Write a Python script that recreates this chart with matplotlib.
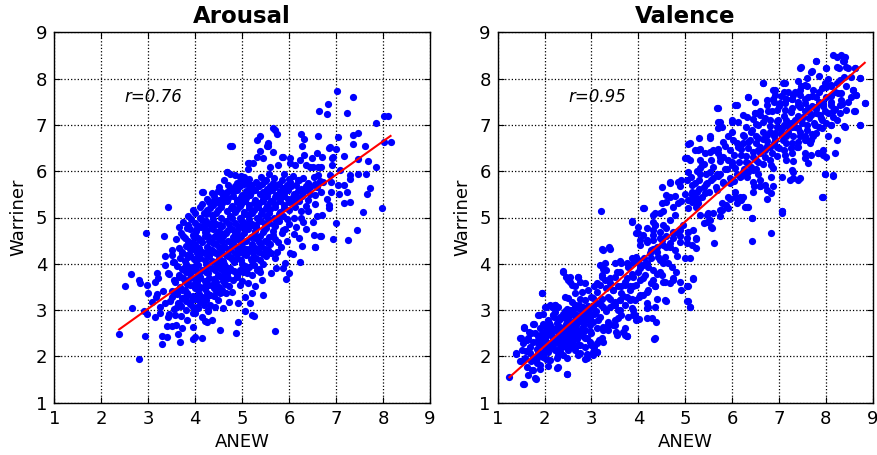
import numpy as np
import matplotlib
matplotlib.use("Agg")
import matplotlib.pyplot as plt

# ---------------- data ----------------
panel_titles = ["Arousal", "Valence"]
r_labels = ["r=0.76", "r=0.95"]
x_label = "ANEW"
y_label = "Warriner"
tick_values = [1, 2, 3, 4, 5, 6, 7, 8, 9]

# fitted regression lines (slope, intercept)
arousal_fit = (0.723, 0.862)
valence_fit = (0.896, 0.430)

# Arousal: sparse / outer points
arousal_outer = [
    (4.78,6.55),(4.16,5.54),(3.43,5.23),(4.58,5.53),(4.67,5.98),(4.74,5.95),(5.15,6.18),(5.13,6.04),
    (4.97,5.90),(4.39,5.38),(4.19,5.10),(7.01,7.74),(7.35,7.60),(6.83,7.45),(6.63,7.30),(6.81,7.24),
    (7.23,7.26),(7.85,7.05),(8.03,7.19),(8.10,7.19),(8.16,6.62),(8.03,6.62),(5.70,6.90),(5.74,6.80),
    (6.25,6.80),(6.61,6.75),(6.32,6.70),(7.04,6.74),(5.32,6.67),(7.35,6.78),(7.47,6.82),(7.37,6.59),
    (7.62,6.55),(6.27,6.55),(6.84,6.51),(6.99,6.48),(5.54,6.55),(5.38,6.44),(5.66,6.41),(5.84,6.31),
    (6.02,6.29),(6.32,6.34),(6.48,6.28),(6.69,6.31),(6.91,6.28),(7.16,6.33),(7.47,6.26),(7.67,6.21),
    (7.85,6.10),(5.45,6.28),(5.24,6.17),(5.59,6.10),(5.77,6.13),(6.13,6.13),(6.37,6.13),(6.51,6.10),
    (6.68,6.10),(6.91,6.13),(7.08,6.03),(7.30,5.92),(7.47,5.94),(7.64,5.94),(7.30,5.83),(7.16,5.70),
    (7.07,5.50),(7.23,5.54),(7.72,5.63),(7.65,5.51),(7.97,5.21),(7.58,5.11),(7.16,5.31),(7.30,5.34),
    (7.00,4.89),(6.80,5.41),(6.67,5.56),(6.73,5.77),(7.05,5.70),(6.62,5.92),(6.87,5.92),
    (7.44,4.72),(7.25,4.51),(6.94,4.54),(6.55,4.36),(6.67,4.60),(6.52,4.63),(6.23,4.04),(6.27,4.38),
    (6.02,4.24),(6.09,4.21),(5.91,4.01),(5.94,3.67),(6.00,3.81),(5.86,3.92),(5.72,3.90),(5.61,3.81),
    (5.42,3.65),(5.45,3.32),(5.26,2.88),(5.71,2.54),(5.27,3.52),(5.20,3.36),(5.31,3.87),(5.38,3.83),
    (6.66,4.59),(6.55,4.37),
    (2.38,2.48),(2.81,1.94),(2.65,3.05),(2.51,3.52),(2.63,3.78),(2.81,3.65),(2.83,3.59),(2.98,3.54),
    (2.95,4.66),(3.34,4.61),(2.93,2.43),(2.97,2.91),(2.92,2.99),(3.29,2.43),(3.39,2.41),(3.30,2.26),
    (3.68,2.32),(3.63,2.48),(3.14,2.86),(3.25,2.93),(3.39,2.66),(3.50,2.66),(3.59,2.68),(3.71,2.61),
    (3.43,2.86),(3.57,2.89),(3.82,2.79),(3.96,2.64),(4.00,2.41),(4.14,2.40),(4.21,2.77),(3.96,2.38),
    (4.53,2.57),(4.87,2.50),(4.91,2.75),(5.06,2.99),(5.20,2.90),(3.18,3.35),(3.17,3.28),(3.14,3.61),
    (3.21,3.69),(3.18,3.81),(3.36,4.17),(3.50,4.19),(3.53,4.03),(3.43,3.81),(3.57,3.61),(3.50,3.41),
    (3.32,3.42),(3.36,3.15),(3.46,3.20),(3.64,3.15),(3.61,3.07),(3.78,3.29),(3.71,3.43),(3.25,3.07),
    (3.82,4.77),(3.78,4.55),(3.91,4.44),(4.00,4.62),(3.71,4.23),(3.85,4.15),(3.78,3.94),(3.75,3.69),
    (3.89,3.80),(3.96,3.54),(3.93,3.22),(4.03,3.07),(4.14,3.29),(4.00,2.93),(4.14,2.86),(4.25,2.75),
    (4.35,2.79),(4.28,3.00),(4.42,3.07),(4.60,3.04),(4.71,3.18),(4.49,3.22),(4.32,3.33),(4.57,3.40),
    (4.78,3.40),(4.92,3.15),(5.06,3.29),(5.17,3.15),(4.95,3.54),(5.13,3.58),(4.88,3.76),(5.06,3.87),
    (5.20,3.76),(4.74,3.87),(4.57,3.72),(4.39,3.58),(4.21,3.51),(4.10,3.69),(4.21,3.87),(4.35,4.05),
    (4.53,4.01),(4.74,4.15),(4.92,4.23),(5.10,4.26),(5.20,4.37),(4.99,4.44),(4.78,4.41),(4.57,4.33),
    (4.39,4.26),(4.21,4.23),(4.07,4.12),(4.10,4.51),(4.28,4.59),(4.46,4.62),(4.63,4.66),(4.85,4.69),
    (5.06,4.77),(5.20,4.84),(4.21,4.84),(4.35,4.80),(4.53,4.84),(4.03,4.77),(3.36,3.97),(3.00,3.36),
    (3.07,3.18),(4.74,6.55),(5.52,6.55),(5.31,6.31),(5.13,6.17),(4.95,5.88),(4.67,5.99),(5.13,5.74),
    (4.15,5.54),(4.56,5.56),(4.39,5.34),(4.25,5.16),(5.66,6.93),(5.38,6.75),(5.56,6.60),(5.88,6.31),
    (6.02,6.17),(6.23,6.24),(6.45,6.10),(6.59,6.39),(6.87,6.53),(6.94,6.31),(6.62,6.10),
]

# Arousal: dense core (first pass)
arousal_core = [
    (4.85,5.92),(5.05,5.87),(5.40,5.88),(5.58,5.93),(5.90,5.94),(6.08,5.89),(6.52,5.87),
    (4.62,5.80),(4.90,5.75),(5.10,5.81),(5.30,5.76),(5.48,5.79),(5.66,5.74),(5.85,5.80),(6.02,5.77),(6.20,5.82),(6.40,5.75),(6.65,5.79),(6.90,5.76),
    (4.50,5.66),(4.75,5.62),(4.95,5.68),(5.15,5.63),(5.35,5.67),(5.52,5.61),(5.70,5.66),(5.88,5.64),(6.05,5.68),(6.25,5.62),(6.45,5.66),
    (4.35,5.53),(4.60,5.50),(4.80,5.55),(5.00,5.49),(5.18,5.54),(5.38,5.51),(5.55,5.55),(5.72,5.48),(5.90,5.53),(6.10,5.50),(6.30,5.55),(6.55,5.49),
    (4.25,5.41),(4.50,5.38),(4.70,5.43),(4.90,5.37),(5.08,5.42),(5.28,5.38),(5.45,5.41),(5.62,5.36),(5.80,5.42),(5.98,5.39),(6.18,5.43),(6.40,5.37),
    (4.15,5.29),(4.38,5.26),(4.58,5.31),(4.78,5.25),(4.97,5.30),(5.15,5.27),(5.35,5.31),(5.52,5.25),(5.70,5.29),(5.90,5.26),(6.10,5.31),(6.35,5.25),(6.85,5.28),
    (3.95,5.16),(4.25,5.12),(4.48,5.17),(4.68,5.13),(4.88,5.18),(5.05,5.12),(5.25,5.16),(5.42,5.14),(5.60,5.18),(5.80,5.12),(6.00,5.16),(6.25,5.13),
    (3.85,5.03),(4.10,5.00),(4.35,5.05),(4.55,4.99),(4.75,5.04),(4.95,5.00),(5.12,5.05),(5.32,4.99),(5.50,5.03),(5.68,5.00),(5.88,5.04),(6.10,5.00),(6.60,5.03),
    (3.75,4.91),(4.00,4.88),(4.22,4.93),(4.45,4.87),(4.65,4.92),(4.85,4.88),(5.02,4.91),(5.20,4.87),(5.40,4.92),(5.58,4.89),(5.78,4.93),(6.00,4.87),(6.30,4.91),
    (3.65,4.79),(3.90,4.76),(4.12,4.80),(4.38,4.75),(4.58,4.81),(4.78,4.76),(4.95,4.79),(5.12,4.75),(5.30,4.80),(5.50,4.77),(5.70,4.81),(5.92,4.76),(6.15,4.79),
    (3.70,4.66),(3.95,4.63),(4.20,4.68),(4.45,4.62),(4.65,4.67),(4.85,4.63),(5.05,4.66),(5.25,4.62),(5.45,4.68),(5.65,4.63),(5.85,4.67),(6.10,4.64),
    (3.60,4.53),(3.85,4.50),(4.05,4.55),(4.30,4.49),(4.50,4.54),(4.70,4.50),(4.90,4.53),(5.08,4.49),(5.28,4.55),(5.48,4.50),(5.70,4.54),(5.95,4.49),
    (3.80,4.38),(4.00,4.43),(4.25,4.37),(4.45,4.42),(4.62,4.38),(4.82,4.41),(5.00,4.37),(5.20,4.43),(5.40,4.38),(5.60,4.42),(5.82,4.37),
    (3.50,4.29),(3.72,4.26),(3.95,4.31),(4.15,4.25),(4.35,4.30),(4.55,4.26),(4.75,4.29),(4.95,4.25),(5.15,4.31),(5.35,4.26),(5.55,4.30),(5.75,4.25),
    (3.68,4.13),(3.90,4.18),(4.10,4.12),(4.30,4.17),(4.50,4.13),(4.70,4.16),(4.88,4.12),(5.08,4.18),(5.30,4.13),(5.50,4.17),(5.70,4.12),
    (3.55,4.03),(3.80,4.00),(4.02,4.05),(4.22,3.99),(4.42,4.04),(4.62,4.00),(4.82,4.03),(5.00,3.99),(5.22,4.05),(5.45,4.00),
    (3.72,3.88),(3.95,3.93),(4.15,3.87),(4.35,3.92),(4.55,3.88),(4.75,3.91),(4.95,3.87),(5.15,3.93),(5.35,3.88),
    (3.45,3.79),(3.65,3.76),(3.88,3.81),(4.08,3.75),(4.28,3.80),(4.48,3.76),(4.68,3.79),(4.88,3.75),(5.10,3.81),
    (3.55,3.66),(3.78,3.63),(4.00,3.68),(4.20,3.62),(4.40,3.67),(4.60,3.63),(4.80,3.66),(5.00,3.62),
    (3.68,3.50),(3.90,3.55),(4.10,3.49),(4.30,3.54),(4.50,3.50),(4.72,3.53),
    (3.60,3.41),(3.82,3.38),(4.05,3.43),(4.25,3.37),(4.45,3.42),(4.65,3.38),
    (3.50,3.29),(3.72,3.26),(3.95,3.31),(4.18,3.25),(4.40,3.30),
    (3.65,3.16),(3.88,3.13),(4.10,3.18),(4.32,3.12),
    (3.55,3.03),(3.80,3.00),(4.05,3.05),(4.28,2.99),
    (3.45,2.91),(3.70,2.88),(3.95,2.93),
    (6.25,5.00),(6.40,5.15),(6.55,5.30),(6.35,4.75),(6.50,4.90),(6.70,5.05),(6.45,5.50),(6.60,5.65),
    (6.20,4.55),(6.85,5.20),(6.90,5.55),(6.30,5.85),
]

# Arousal: dense core (second pass, in between)
arousal_core_fill = [
    (4.98,5.84),(5.15,5.83),(5.50,5.82),(5.68,5.85),(6.00,5.84),(6.18,5.82),
    (4.70,5.71),(4.85,5.69),(5.04,5.72),(5.22,5.70),(5.42,5.73),(5.60,5.69),(5.78,5.72),(5.95,5.70),(6.14,5.71),(6.35,5.69),(6.55,5.72),
    (4.48,5.58),(4.68,5.56),(4.88,5.60),(5.08,5.57),(5.27,5.59),(5.45,5.56),(5.63,5.60),(5.80,5.57),(5.98,5.59),(6.18,5.57),(6.38,5.60),
    (4.40,5.46),(4.60,5.44),(4.80,5.47),(4.98,5.45),(5.17,5.48),(5.53,5.47),(5.71,5.45),(5.90,5.47),(6.08,5.44),(6.28,5.46),
    (4.30,5.34),(4.50,5.32),(4.68,5.35),(4.88,5.33),(5.06,5.36),(5.25,5.32),(5.44,5.35),(5.60,5.33),(5.80,5.35),(6.00,5.33),(6.20,5.35),
    (4.10,5.22),(4.32,5.20),(4.55,5.23),(4.76,5.21),(4.95,5.24),(5.14,5.20),(5.33,5.23),(5.50,5.21),(5.70,5.23),(5.90,5.21),(6.12,5.23),
    (4.00,5.09),(4.22,5.07),(4.44,5.10),(4.84,5.11),(5.03,5.07),(5.22,5.10),(5.40,5.08),(5.58,5.10),(5.78,5.08),
    (3.92,4.96),(4.15,4.94),(4.38,4.97),(4.78,4.98),(4.97,4.94),(5.15,4.97),(5.35,4.95),(5.54,4.97),(5.73,4.95),(5.95,4.97),
    (3.85,4.84),(4.08,4.82),(4.32,4.85),(4.53,4.83),(4.73,4.86),(4.92,4.82),(5.10,4.85),(5.30,4.83),(5.48,4.85),(5.68,4.83),
    (4.02,4.70),(4.26,4.73),(4.50,4.71),(4.70,4.74),(4.90,4.70),(5.28,4.71),(5.46,4.73),(5.66,4.71),(5.86,4.73),
    (3.75,4.59),(3.98,4.57),(4.20,4.60),(4.40,4.58),(4.60,4.61),(4.80,4.57),(4.98,4.60),(5.18,4.58),(5.38,4.60),(5.58,4.58),
    (3.93,4.45),(4.15,4.48),(4.38,4.46),(4.58,4.49),(4.78,4.45),(4.97,4.48),(5.36,4.48),(5.56,4.46),(5.76,4.48),
    (3.65,4.34),(3.88,4.32),(4.08,4.35),(4.30,4.33),(4.50,4.36),(4.70,4.32),(4.90,4.35),(5.08,4.33),(5.28,4.35),(5.48,4.33),
    (3.82,4.20),(4.03,4.23),(4.25,4.21),(4.45,4.24),(4.65,4.20),(4.85,4.23),(5.04,4.21),(5.24,4.23),(5.44,4.21),(5.62,4.23),
    (3.78,4.07),(3.98,4.10),(4.20,4.08),(4.60,4.07),(4.78,4.10),(4.98,4.08),(5.18,4.10),(5.38,4.08),
    (3.62,3.96),(3.85,3.94),(4.06,3.97),(4.26,3.95),(4.46,3.98),(4.66,3.94),(5.06,3.95),(5.25,3.97),
    (3.80,3.82),(4.02,3.85),(4.22,3.83),(4.42,3.86),(4.62,3.82),(4.82,3.85),(5.02,3.83),
    (3.66,3.71),(3.90,3.69),(4.10,3.72),(4.30,3.70),(4.50,3.73),(4.70,3.69),(4.90,3.72),
    (3.82,3.57),(4.04,3.60),(4.44,3.61),(4.64,3.57),
    (3.78,3.44),(4.00,3.47),(4.20,3.45),(4.40,3.48),(4.58,3.44),
    (3.62,3.34),(3.85,3.32),(4.08,3.35),(4.30,3.33),(4.52,3.36),
    (3.80,3.20),(4.02,3.23),(4.24,3.21),
    (3.70,3.09),(3.95,3.07),(4.18,3.10),
]

# Valence: sparse / outer points
valence_outer = [
    (3.20,5.14),(4.12,5.20),(4.51,5.65),(4.67,5.75),(4.99,6.28),(4.60,5.49),(4.78,5.46),(4.58,5.34),
    (4.89,5.67),(4.92,5.81),(4.74,5.23),(4.85,5.31),(4.35,5.09),(4.53,5.13),
    (3.87,4.92),(4.10,5.20),(4.32,4.91),(4.35,4.84),(4.46,5.09),(4.50,5.31),(4.67,5.45),(4.67,5.77),
    (4.85,5.77),(5.06,6.59),(5.03,6.28),(5.21,6.46),(5.31,6.49),(5.53,6.75),(5.67,7.36),(5.74,7.07),
    (5.78,6.96),(5.99,7.07),(6.06,7.43),(6.24,7.21),(6.34,7.61),(6.49,7.25),(6.66,7.90),(6.74,7.54),
    (6.91,7.75),(7.13,7.90),(7.27,7.57),(7.45,8.22),(7.69,8.15),(7.80,8.37),(8.01,8.22),(8.12,7.83),
    (8.33,8.51),(8.40,8.47),(8.37,8.37),(8.44,8.26),(8.48,8.22),(8.62,8.22),(8.72,8.01),(8.58,7.75),
    (8.65,7.65),(8.83,7.47),(8.72,7.00),(8.62,7.29),(8.44,7.32),(8.40,6.96),(8.12,7.00),(8.19,6.39),
    (7.94,6.35),(8.16,5.92),(7.94,5.45),(7.98,5.95),(7.84,6.39),(7.73,6.75),(7.59,6.67),(7.55,6.39),
    (7.38,6.53),(7.30,6.21),(7.16,6.24),(7.23,5.81),(7.41,5.81),(7.30,5.99),(7.06,5.13),(6.88,5.67),
    (6.74,5.59),(6.59,5.67),(6.84,5.88),(6.45,5.77),(6.42,4.98),(6.34,5.23),(6.27,5.23),(6.17,5.45),
    (6.20,5.38),(6.06,5.56),(5.88,5.27),(5.95,5.41),(5.74,5.16),(5.60,5.09),(5.46,4.91),(5.56,4.80),
    (7.06,5.10),(6.43,5.00),(6.83,4.67),(6.43,4.49),(5.74,5.04),(5.61,4.44),(5.58,4.78),(5.53,4.95),
    (5.41,4.89),(5.24,4.54),(5.24,4.35),(5.15,4.41),(5.03,4.46),(5.10,4.12),(5.17,3.67),(5.05,3.51),
    (5.03,3.20),(5.10,3.06),(5.17,4.73),(5.06,4.69),(5.31,5.05),(5.46,5.05),
    (1.25,1.55),(1.56,1.40),(1.39,2.07),(1.50,2.39),(1.51,1.90),(1.55,1.92),(1.56,2.61),(1.67,2.52),
    (1.72,2.51),(1.63,2.35),(1.60,2.12),(1.69,2.07),(1.73,1.70),(1.81,1.51),(1.83,1.86),(1.90,1.73),
    (1.78,2.69),(1.87,2.89),(1.94,3.37),(1.97,2.91),(1.85,2.28),(1.90,2.07),(1.97,2.02),(2.08,1.80),
    (2.03,1.94),(1.90,2.43),(2.04,2.46),(2.12,2.68),(2.04,3.07),(2.15,3.07),(2.22,3.11),(2.19,2.89),
    (2.27,1.74),(2.47,1.62),(2.48,1.96),(2.29,2.03),(2.36,2.21),(2.40,3.84),(2.46,3.72),(2.43,3.29),
    (2.51,3.27),(2.58,3.17),(2.65,3.11),(2.54,3.61),(2.65,3.51),(2.72,3.72),(2.74,3.11),(2.83,3.07),
    (2.47,2.89),(2.58,3.00),(2.61,2.68),(2.47,2.53),(2.43,2.35),(2.68,2.46),(2.65,2.14),(2.72,2.03),
    (2.75,2.25),(2.90,2.05),(3.03,2.03),(2.86,1.94),(2.90,2.39),(3.00,2.25),(3.04,2.10),(3.11,2.09),
    (3.05,2.21),(3.17,2.35),(3.24,2.32),(2.97,2.55),(2.83,2.53),(2.79,2.75),(2.90,2.91),(3.04,2.74),
    (3.14,2.79),(3.25,2.64),(3.36,2.57),(3.36,2.74),(3.47,2.68),(3.52,2.52),(3.50,2.79),(3.68,2.53),
    (3.71,2.46),(3.75,2.43),(3.04,3.27),(3.11,3.58),(3.06,3.51),(3.22,3.72),(3.24,3.88),(3.22,4.31),
    (3.38,4.37),(3.29,4.01),(3.39,3.69),(3.32,3.47),(3.47,3.43),(3.36,3.29),(3.47,3.11),(3.57,3.00),
    (3.64,2.89),(3.50,3.18),(3.61,3.22),(3.71,3.11),(3.67,3.31),(3.86,3.04),(3.89,2.89),(3.96,2.79),
    (3.86,3.25),(3.93,3.22),(4.02,3.29),(4.10,3.33),(3.64,3.51),(3.71,3.54),(3.82,3.43),(3.89,3.51),
    (3.75,3.69),(3.61,3.83),(3.64,4.01),(3.79,3.94),(3.89,4.01),(4.00,4.08),(4.00,3.83),(4.03,3.65),
    (3.86,3.79),(4.14,3.76),(4.10,3.97),(4.21,3.94),(4.26,4.12),(4.12,4.13),(4.03,3.90),(4.28,3.58),
    (4.35,3.51),(4.21,3.43),(4.18,3.15),(4.21,3.07),(4.30,2.82),(4.38,2.74),(4.34,2.37),(4.02,2.81),
    (4.50,3.76),(4.39,3.78),(4.53,3.61),(4.59,3.20),(4.67,3.58),(4.74,3.69),(4.81,3.83),(4.83,4.17),
    (4.64,4.01),(4.46,4.08),(4.39,4.26),(4.25,4.23),(4.32,4.33),(4.18,4.48),(4.03,4.51),(4.03,4.41),
    (4.00,4.66),(4.10,4.62),(4.32,4.51),(4.50,4.51),(4.60,4.37),(4.67,4.44),(4.74,4.55),(4.89,4.59),
    (5.03,4.55),(4.99,4.12),(5.04,3.52),(5.06,3.20),(5.10,3.07),(5.17,3.69),(5.24,4.55),(4.46,4.69),
    (4.60,4.77),(4.74,4.69),(4.89,4.73),(4.32,4.73),(4.18,4.77),
]

# Valence: dense parts of the cloud
valence_core = [
    (8.16,8.51),(8.23,8.46),(8.38,8.37),(8.23,8.26),(8.28,8.22),(7.80,8.37),(7.47,8.24),(7.71,8.16),
    (8.00,8.22),(8.62,8.22),(8.72,8.01),(8.53,8.04),(8.39,8.04),(8.30,7.97),(8.12,7.86),(7.91,7.79),
    (7.73,7.75),(7.55,7.86),(7.48,7.83),(7.34,7.72),(7.09,7.90),(6.66,7.90),(6.88,7.75),(6.91,7.65),
    (7.11,7.70),(7.16,7.57),(7.27,7.57),(7.45,7.65),(7.62,7.61),(7.80,7.61),(8.01,7.61),(8.19,7.72),
    (8.44,7.83),(8.58,7.75),(8.83,7.47),(8.65,7.65),(8.48,7.50),(8.60,7.31),(8.33,7.54),(8.30,7.43),
    (8.16,7.29),(8.23,7.11),(8.39,6.98),(8.72,7.00),(8.23,6.67),(8.05,6.75),(8.01,6.31),(8.16,5.90),
    (7.98,5.95),(7.92,5.45),(7.84,6.39),(7.69,6.35),(7.62,6.17),(7.55,6.28),(7.45,5.85),(7.30,5.86),
    (7.27,6.03),(7.13,6.35),(7.06,5.88),(7.06,5.13),(6.83,5.52),(6.74,5.41),(6.84,6.13),(6.88,6.06),
    (6.70,5.70),(6.59,5.67),(6.45,5.56),(6.47,5.68),(6.31,5.88),(6.17,5.88),(6.24,5.45),(6.20,5.41),
    (6.10,5.31),(6.31,5.23),(5.92,5.20),(6.06,5.45),(5.95,5.74),(5.81,5.77),(5.67,5.59),(5.46,5.74),
    (5.42,5.52),(5.21,5.45),(5.28,5.31),(5.14,5.56),(5.21,5.74),(5.31,5.95),(5.53,5.99),(5.67,5.95),
    (5.31,6.06),(5.06,5.99),(5.10,6.24),(5.03,6.28),(5.28,6.46),(5.31,6.24),(5.42,6.39),(5.53,6.42),
    (5.60,6.46),(5.70,6.49),(5.74,6.21),(5.81,6.31),(5.92,6.24),(5.99,6.13),(6.06,6.06),(6.24,5.99),
    (6.34,6.17),(6.45,6.03),(6.52,6.24),(6.56,6.46),(6.70,6.46),(6.81,6.53),(6.95,6.53),(6.91,6.67),
    (7.09,6.67),(7.16,6.75),(7.27,6.60),(7.45,6.75),(7.55,6.67),(7.69,6.67),(7.80,6.82),(7.91,6.93),
    (7.77,7.00),(7.59,7.00),(7.41,6.93),(7.27,6.96),(7.06,6.93),(6.91,6.82),(6.74,6.78),(6.56,6.71),
    (6.38,6.67),(6.24,6.60),(6.13,6.53),(6.02,6.67),(6.24,6.78),(6.42,6.89),(6.52,7.03),(6.66,7.07),
    (6.81,7.11),(6.98,7.11),(7.16,7.11),(7.34,7.11),(7.52,7.18),(7.69,7.21),(7.87,7.21),(7.98,7.29),
    (7.80,7.39),(7.62,7.36),(7.45,7.39),(7.27,7.36),(7.13,7.32),(6.95,7.32),(6.77,7.29),(6.59,7.29),
    (6.49,7.25),(6.31,7.18),(6.13,7.07),(5.99,7.11),(5.92,6.75),(5.70,7.07),(5.70,6.93),(5.69,7.36),
    (6.10,7.43),(6.33,7.60),(6.49,7.50),(6.88,7.57),(7.02,7.47),(7.13,7.47),(7.41,7.50),(7.55,7.47),
    (5.30,6.71),(5.53,6.71),(5.10,6.60),(5.35,6.13),(5.03,5.81),(5.06,5.38),(5.24,5.23),(5.78,5.31),
    (5.78,5.16),(5.49,5.09),(5.92,5.45),(6.56,5.95),(6.59,5.81),(7.27,6.39),(7.41,6.53),(7.94,6.46),
    (7.66,6.60),(8.12,7.00),(7.91,7.11),(8.12,7.43),(7.98,7.90),(8.23,7.90),(8.33,7.69),(8.53,7.61),
    (6.20,6.35),(6.35,6.50),(6.50,6.60),(6.65,6.70),(6.80,6.85),(6.95,6.95),(7.10,7.00),(7.25,7.05),
    (7.40,7.20),(7.55,7.30),(7.70,7.40),(7.85,7.50),(6.00,6.20),(5.85,6.05),(5.70,5.90),(5.55,5.80),
    (5.40,5.65),(5.25,5.55),(6.30,6.20),(6.45,6.30),(6.60,6.40),(6.75,6.55),(6.90,6.60),(7.05,6.80),
    (7.20,6.85),(7.35,6.95),(7.50,7.05),(7.65,7.15),(7.80,7.25),(7.95,7.40),(8.10,7.50),(6.40,6.85),
    (6.55,7.00),(6.70,7.15),(6.85,7.30),(7.00,7.40),(7.15,7.55),(7.30,7.65),(7.45,7.75),(7.60,7.85),
    (5.95,6.45),(6.10,6.60),(6.25,6.75),(5.60,6.10),(5.75,6.30),(5.45,5.95),(5.30,5.80),(5.15,5.70),
    (5.00,5.50),(4.90,5.35),(5.05,5.20),(5.20,5.35),(5.35,5.45),(5.50,5.55),(5.65,5.65),(5.80,5.75),
    (5.95,5.85),(6.10,5.95),(6.25,6.05),(6.40,6.10),(6.55,6.20),(6.70,6.30),(6.85,6.40),(7.00,6.50),
    (7.15,6.60),(7.30,6.75),(7.45,6.85),(7.60,6.90),(7.75,7.05),(7.90,7.15),(8.05,7.25),(8.20,7.35),
    (8.35,7.45),(5.21,5.38),(5.18,5.42),(5.24,5.36),(5.15,5.33),(5.27,5.40),
    (1.55,1.40),(1.56,2.63),(1.39,2.05),(1.48,2.39),(1.76,2.69),(1.94,3.38),(1.89,2.89),(2.01,3.07),
    (2.12,3.11),(2.22,3.11),(2.29,3.07),(2.19,2.89),(2.08,2.79),(1.97,2.71),(2.33,2.86),(2.43,2.97),
    (2.54,3.00),(2.65,3.11),(2.47,2.79),(2.33,2.64),(2.22,2.57),(2.12,2.50),(2.01,2.53),(1.87,2.43),
    (1.76,2.32),(1.69,2.21),(1.83,2.17),(1.94,2.25),(2.04,2.32),(2.19,2.35),(2.29,2.43),(2.40,2.50),
    (2.54,2.57),(2.65,2.68),(2.75,2.79),(2.83,2.89),(2.93,3.00),(3.04,3.07),(3.11,3.15),(2.79,2.61),
    (2.72,2.46),(2.86,2.39),(2.97,2.68),(2.61,2.35),(2.47,2.28),(2.33,2.21),(2.22,2.14),(2.08,2.10),
    (1.97,1.99),(1.83,1.96),(1.72,1.89),(1.62,1.78),(1.90,1.81),(2.12,1.92),(2.26,1.96),(2.40,2.03),
    (2.75,2.07),(2.90,1.96),(3.11,2.10),(2.47,1.63),(2.29,1.78),(1.75,1.71),(3.11,2.28),(3.22,2.39),
    (3.25,2.57),(3.36,2.68),(3.18,2.86),(3.32,2.97),(3.39,3.07),(3.50,3.11),(3.61,3.00),(3.57,2.82),
    (3.50,2.68),(3.54,2.46),(3.75,2.43),(3.71,2.61),(3.79,2.86),(3.89,3.00),(3.93,2.89),(4.18,2.82),
    (4.35,2.39),(4.18,3.04),(4.35,3.07),(4.39,3.25),(4.57,3.22),(4.57,3.61),(4.35,3.51),(4.18,3.40),
    (4.03,3.33),(3.96,3.54),(3.82,3.51),(3.75,3.29),(3.64,3.36),(3.47,3.43),(3.39,3.58),(3.29,3.65),
    (3.22,3.76),(3.18,3.54),(3.11,3.40),(3.00,3.29),(2.93,3.43),(2.86,3.22),(2.75,3.25),(2.86,3.58),
    (2.75,3.61),(2.58,3.54),(2.51,3.65),(2.54,3.72),(2.40,3.83),(2.72,3.72),(3.32,3.87),(3.54,3.83),
    (3.50,4.01),(3.61,4.05),(3.75,4.01),(3.86,4.12),(3.96,4.15),(4.03,3.97),(4.18,4.01),(4.32,3.87),
    (4.46,3.83),(4.53,4.01),(4.71,3.94),(4.74,3.65),(4.89,3.61),(4.92,3.43),(4.57,4.15),(4.43,4.15),
    (4.28,4.30),(4.39,4.37),(4.53,4.41),(4.67,4.37),(4.78,4.30),(4.89,4.48),(4.85,4.66),(4.96,4.84),
    (4.74,4.66),(4.60,4.59),(4.46,4.55),(4.32,4.62),(4.18,4.51),(3.96,4.66),(4.00,4.80),(3.86,4.91),
    (4.35,4.84),(4.53,4.84),(4.67,4.95),(4.78,5.05),(4.32,5.05),(3.39,4.31),(3.25,4.30),(2.79,3.40),
    (2.65,3.36),(3.50,3.72),(3.18,3.97),(4.10,3.69),(3.89,3.72),(3.71,3.61),(3.57,3.51),(4.32,3.65),
    (3.82,3.22),(3.61,3.22),(3.39,3.25),(3.22,3.25),(3.25,3.07),(3.07,2.93),(2.97,2.82),(2.86,2.79),
    (2.68,2.86),(2.58,2.75),(2.51,2.64),(2.68,2.57),(2.86,2.57),(3.00,2.50),(3.11,2.61),(2.58,2.46),
    (2.36,2.39),(2.22,2.28),(2.12,2.21),(2.01,2.14),(1.87,2.07),(1.76,1.99),(2.51,2.14),(2.58,2.21),
    (2.72,2.25),(2.86,2.21),(2.97,2.32),(2.12,2.64),(2.04,2.64),(1.90,2.61),(1.80,2.50),(1.65,2.39),
    (1.55,2.28),(1.51,2.14),(1.58,1.96),(1.48,1.89),(1.65,1.60),(1.80,1.53),
    (2.05,2.55),(2.15,2.45),(2.25,2.62),(2.35,2.55),(2.45,2.70),(2.55,2.62),(2.65,2.78),(2.10,2.72),
    (2.20,2.85),(2.30,2.78),(2.40,2.92),(2.50,2.85),(2.60,2.95),(2.70,2.90),(2.80,2.98),(2.90,2.88),
    (2.00,2.38),(2.12,2.30),(2.28,2.35),(2.38,2.30),(2.50,2.40),(2.62,2.50),(2.75,2.55),(2.85,2.70),
    (2.95,2.78),(3.05,2.92),(2.18,2.18),(2.32,2.12),(2.45,2.20),(2.58,2.30),(2.70,2.38),(2.82,2.45),
    (1.95,2.50),(1.85,2.35),(2.22,2.95),(2.48,3.02),(2.72,3.05),(2.92,3.08),(3.10,2.98),(3.20,3.10),
    (2.42,2.48),(2.55,2.55),(2.68,2.68),(2.80,2.80),(2.95,2.95),
]

# Valence: extra points filling the dense upper band and lower cluster
valence_core_fill = [
    (6.05,6.35),(6.20,6.48),(6.35,6.62),(6.50,6.75),(6.65,6.85),(6.80,6.98),(6.95,7.08),(7.10,7.20),
    (7.25,7.28),(7.40,7.42),(7.55,7.55),(7.70,7.62),(7.85,7.72),(8.00,7.82),(6.15,6.20),(6.30,6.32),
    (6.45,6.42),(6.60,6.52),(6.75,6.65),(6.90,6.75),(7.05,6.90),(7.20,6.98),(7.35,7.08),(7.50,7.15),
    (7.65,7.28),(7.80,7.35),(7.95,7.48),(8.10,7.62),(8.25,7.68),(5.90,6.05),(5.75,5.95),(5.60,5.85),
    (5.45,5.72),(5.30,5.62),(5.15,5.48),(6.05,5.78),(6.20,5.90),(6.35,5.98),(6.50,6.05),(6.65,6.15),
    (6.80,6.25),(6.95,6.32),(7.10,6.45),(7.25,6.50),(7.40,6.62),(7.55,6.75),(7.70,6.80),(7.85,6.95),
    (8.00,7.05),(8.15,7.18),(8.30,7.25),(6.30,6.95),(6.45,7.12),(6.60,7.22),(6.75,7.42),(6.90,7.50),
    (7.05,7.62),(7.20,7.72),(7.40,7.95),(7.60,8.02),(7.85,8.05),(8.05,8.00),(5.85,6.55),(5.70,6.40),
    (5.55,6.25),(5.40,6.15),(5.25,6.00),(5.12,5.88),(6.00,6.85),(5.80,6.62),
    (2.02,2.44),(2.16,2.58),(2.30,2.50),(2.44,2.62),(2.58,2.68),(2.70,2.74),(2.26,2.72),(2.36,2.84),
    (2.54,2.90),(2.66,2.86),(2.20,2.40),(2.34,2.30),(2.46,2.40),(2.60,2.42),(1.94,2.30),(2.08,2.22),
]

# ---------------- figure ----------------
plt.rcParams.update({
    "font.family": ["DejaVu Sans"],
    "xtick.direction": "in",
    "ytick.direction": "in",
    "xtick.top": True,
    "ytick.right": True,
    "xtick.major.size": 4,
    "ytick.major.size": 4,
    "xtick.major.pad": 5,
    "ytick.major.pad": 5,
    "axes.linewidth": 1.0,
})

fig = plt.figure(figsize=(8.77, 4.55), dpi=100)
ax_positions = [
    [54.3 / 877, (455 - 402.7) / 455, 375.7 / 877, 370.4 / 455],
    [497.7 / 877, (455 - 402.7) / 455, 375.0 / 877, 370.4 / 455],
]

panels = [
    (arousal_outer + arousal_core + arousal_core_fill, arousal_fit),
    (valence_outer + valence_core + valence_core_fill, valence_fit),
]

for i, ((points, fit), title, rlab) in enumerate(zip(panels, panel_titles, r_labels)):
    ax = fig.add_axes(ax_positions[i])
    xs, ys = zip(*points)
    xs = np.array(xs)
    ys = np.array(ys)
    ax.plot(xs, ys, "o", color="#0000ff", markersize=5.2, markeredgewidth=0, zorder=3)
    slope, intercept = fit
    lx = np.array([xs.min(), xs.max()])
    ax.plot(lx, slope * lx + intercept, "-", color="#ff0000", linewidth=1.5, zorder=4)
    ax.set_xlim(tick_values[0], tick_values[-1])
    ax.set_ylim(tick_values[0], tick_values[-1])
    ax.set_xticks(tick_values)
    ax.set_yticks(tick_values)
    ax.tick_params(labelsize=13)
    ax.grid(True, color="black", linestyle=":", linewidth=0.9)
    ax.set_axisbelow(True)
    ax.set_title(title, fontsize=16.5, fontweight="bold", pad=7)
    ax.set_xlabel(x_label, fontsize=13)
    ax.set_ylabel(y_label, fontsize=13, labelpad=6)
    ax.text(2.5, 7.5, rlab, fontsize=12, style="italic", ha="left", va="baseline")

fig.savefig("out.png", dpi=100)
